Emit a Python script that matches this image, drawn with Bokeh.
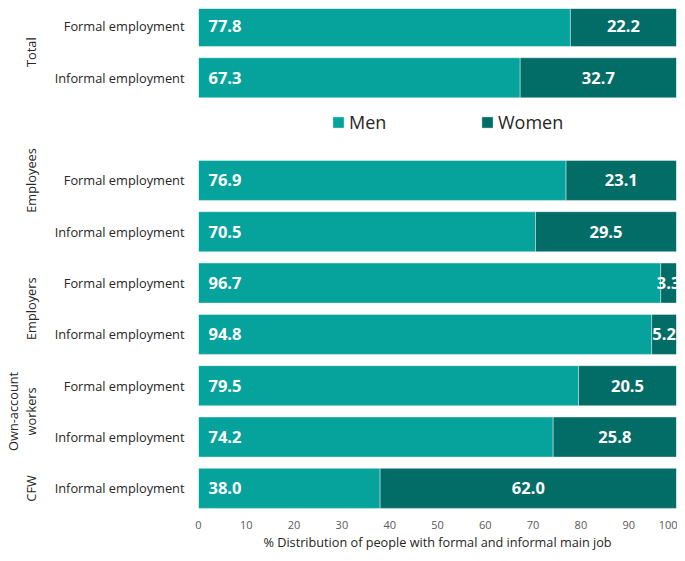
import math
from bokeh.plotting import figure
from bokeh.models import (ColumnDataSource, Range1d, FixedTicker, LinearAxis, Legend, LegendItem)
from bokeh.core.properties import value
from bokeh.embed import file_html
from bokeh.resources import INLINE

# ---- data ----
groups = ["Total", "Total", "Employees", "Employees", "Employers", "Employers",
          "Own-account workers", "Own-account workers", "CFW"]
jobs = ["Formal employment", "Informal employment", "Formal employment", "Informal employment",
        "Formal employment", "Informal employment", "Formal employment", "Informal employment",
        "Informal employment"]
men = [77.8, 67.3, 76.9, 70.5, 96.7, 94.8, 79.5, 74.2, 38.0]
women = [22.2, 32.7, 23.1, 29.5, 3.3, 5.2, 20.5, 25.8, 62.0]
series = ["Men", "Women"]
x_ticks = [0, 10, 20, 30, 40, 50, 60, 70, 80, 90, 100]
x_title = "% Distribution of people with formal and informal main job"

MEN_C = "#05A39C"
WOMEN_C = "#026C67"
TXT = "#262626"
FONT = "Open Sans"

# row positions: a blank row after "Total" holds the legend
rows = [i if i < 2 else i + 1 for i in range(len(men))]
legend_row = 2

src = ColumnDataSource(dict(
    y=rows,
    men=men,
    women=women,
    zero=[0] * len(men),
    total=[m + w for m, w in zip(men, women)],
    men_lbl=[f"{m:.1f}" for m in men],
    women_lbl=[f"{w:.1f}" for w in women],
    women_mid=[m + w / 2 for m, w in zip(men, women)],
))

W, H = 677, 553
p = figure(width=W, height=H, output_backend="svg", toolbar_location=None,
           x_range=Range1d(0, 100), y_range=Range1d(max(rows) + 0.47, -0.35),
           min_border_left=198, min_border_right=1, min_border_top=8, min_border_bottom=41)
p.outline_line_color = None
p.grid.visible = False
p.background_fill_color = "white"
p.border_fill_color = "white"

bh = 0.78
r_men = p.hbar(y="y", left="zero", right="men", height=bh, source=src,
               fill_color=MEN_C, line_color="white", line_alpha=0.5, line_width=0.8)
r_women = p.hbar(y="y", left="men", right="total", height=bh, source=src,
                 fill_color=WOMEN_C, line_color="white", line_alpha=0.5, line_width=0.8)

p.text(x="zero", y="y", text="men_lbl", source=src, x_offset=10,
       text_align="left", text_baseline="middle", text_color="white",
       text_font=value(FONT), text_font_style="bold", text_font_size="16.5px")
p.text(x="women_mid", y="y", text="women_lbl", source=src,
       text_align="center", text_baseline="middle", text_color="white",
       text_font=value(FONT), text_font_style="bold", text_font_size="16.5px")

# x axis
xa = p.xaxis[0]
xa.ticker = FixedTicker(ticks=x_ticks)
xa.axis_line_color = None
xa.major_tick_line_color = None
xa.minor_tick_line_color = None
xa.major_tick_out = 0
xa.major_tick_in = 0
xa.major_label_standoff = 8
xa.major_label_text_font = FONT
xa.major_label_text_font_size = "11px"
xa.major_label_text_color = "#595959"
xa.axis_label = x_title
xa.axis_label_text_font = FONT
xa.axis_label_text_font_size = "12.7px"
xa.axis_label_text_font_style = "normal"
xa.axis_label_text_color = TXT
xa.axis_label_standoff = 1

# y axis: job labels
ya = p.yaxis[0]
ya.ticker = FixedTicker(ticks=rows)
ya.major_label_overrides = {r: j for r, j in zip(rows, jobs)}
ya.axis_line_color = None
ya.major_tick_line_color = None
ya.minor_tick_line_color = None
ya.major_tick_out = 0
ya.major_tick_in = 0
ya.major_label_standoff = 14
ya.major_label_text_font = FONT
ya.major_label_text_font_size = "12.8px"
ya.major_label_text_color = TXT

# second left axis: rotated group labels (Employees group also spans the legend row)
group_names = []
for g in groups:
    if g not in group_names:
        group_names.append(g)
group_pos = {}
for g in group_names:
    rs = [r for r, gg in zip(rows, groups) if gg == g]
    if g == "Employees":
        rs = [legend_row] + rs
    group_pos[g] = sum(rs) / len(rs)

ga = LinearAxis(ticker=FixedTicker(ticks=list(group_pos.values())))
ga.major_label_overrides = {v: ("Own-account\nworkers" if g == "Own-account workers" else g)
                            for g, v in group_pos.items()}
ga.major_label_orientation = "vertical"
ga.axis_line_color = None
ga.major_tick_line_color = None
ga.minor_tick_line_color = None
ga.major_tick_out = 0
ga.major_tick_in = 0
ga.major_label_standoff = 11
ga.major_label_text_font = FONT
ga.major_label_text_font_size = "12.8px"
ga.major_label_text_line_height = 1.0
ga.major_label_text_color = TXT
p.add_layout(ga, "left")

# legend
legend = Legend(items=[LegendItem(label=series[0], renderers=[r_men]),
                       LegendItem(label=series[1], renderers=[r_women])],
                orientation="horizontal", location=(133, 378),
                glyph_width=14, glyph_height=14, label_standoff=4, label_width=121,
                spacing=10, padding=0, margin=0, border_line_color=None,
                background_fill_alpha=0, label_text_font=FONT,
                label_text_font_size="18px", label_text_color=TXT)
p.add_layout(legend)

open("out.html", "w").write(file_html(p, INLINE))
